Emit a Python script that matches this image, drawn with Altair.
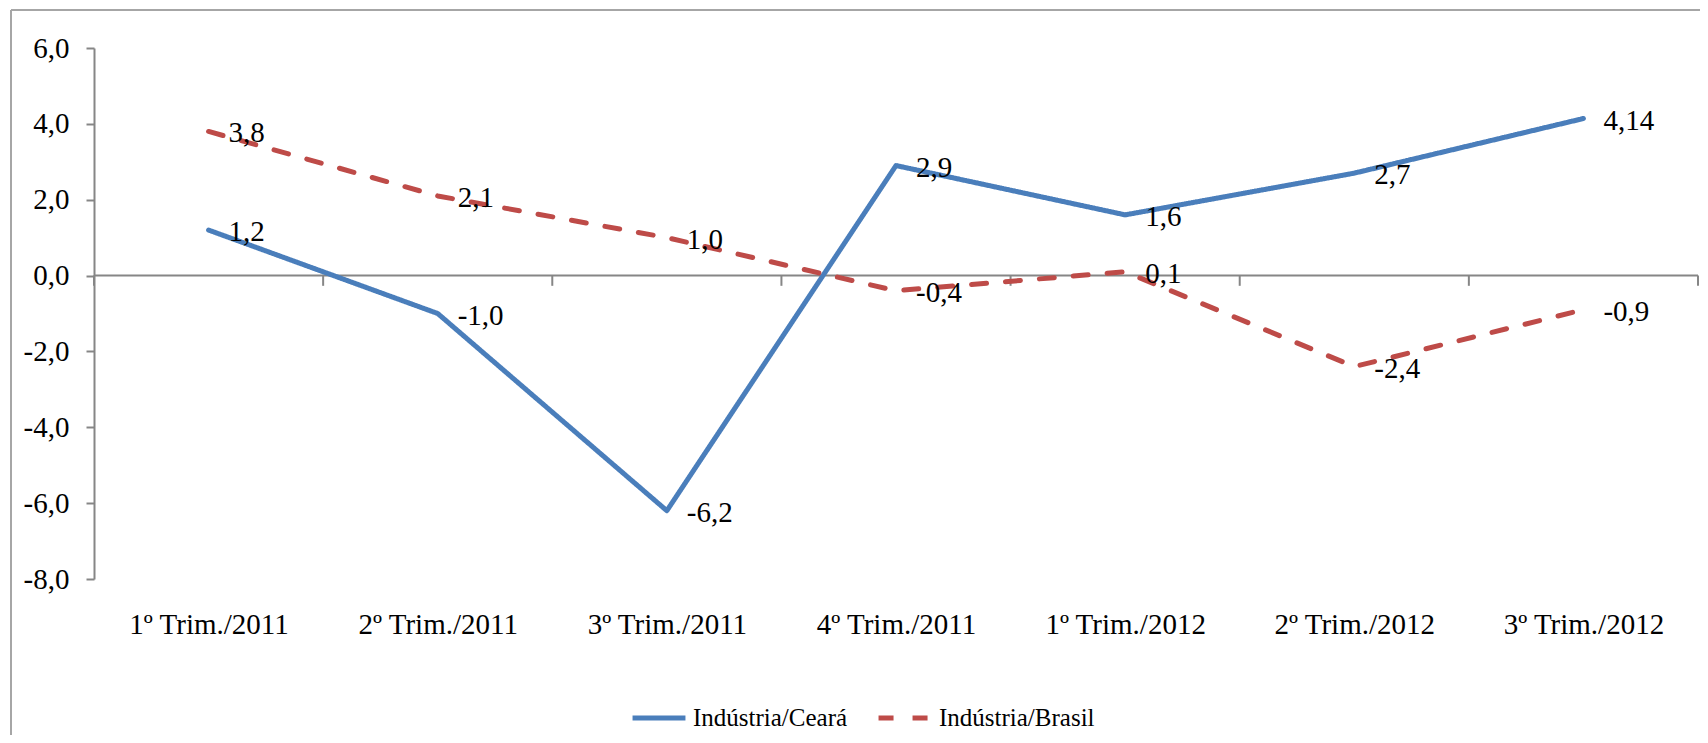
import json
import altair as alt
import pandas as pd

# ---- data ----
categories = ["1º Trim./2011", "2º Trim./2011", "3º Trim./2011", "4º Trim./2011",
              "1º Trim./2012", "2º Trim./2012", "3º Trim./2012"]
series_names = ["Indústria/Ceará", "Indústria/Brasil"]
ceara = [1.2, -1.0, -6.2, 2.9, 1.6, 2.7, 4.14]
brasil = [3.8, 2.1, 1.0, -0.4, 0.1, -2.4, -0.9]
y_ticks = [-8, -6, -4, -2, 0, 2, 4, 6]
boundaries = list(range(len(categories) + 1))


def fmt(v):
    s = f"{v:.2f}".rstrip("0")
    if s.endswith("."):
        s += "0"
    return s.replace(".", ",")


rows = []
for name, vals in zip(series_names, [ceara, brasil]):
    for i, (c, v) in enumerate(zip(categories, vals)):
        rows.append({"cat": c, "pos": i + 0.5, "serie": name, "valor": v, "rotulo": fmt(v)})
df = pd.DataFrame(rows)

FONT = "Liberation Serif"
GREY = "#868686"
xscale = alt.Scale(domain=[0, len(categories)], nice=False, zero=False)
yscale = alt.Scale(domain=[-8, 6], nice=False, zero=False)

legend = alt.Legend(
    title=None, orient="none", legendX=536, legendY=641, direction="horizontal",
    symbolType="stroke", symbolSize=2800, symbolStrokeWidth=5,
    labelFontSize=25, labelFont=FONT, labelColor="black", labelOffset=5,
    columnPadding=20, padding=0, labelLimit=0,
)
color = alt.Color("serie:N", scale=alt.Scale(domain=series_names, range=["#4A7EBB", "#BE4B48"]),
                  legend=legend)
dash = alt.StrokeDash("serie:N", scale=alt.Scale(domain=series_names, range=[[1, 0], [15, 19]]),
                      legend=legend)

x_axis = alt.Axis(
    values=[i + 0.5 for i in range(len(categories))],
    labelExpr=json.dumps(categories) + "[floor(datum.value)]",
    domain=False, ticks=False, tickSize=0, grid=False, labelPadding=31,
    labelFont=FONT, labelFontSize=29, labelColor="black", title=None,
)
y_axis = alt.Axis(
    values=y_ticks,
    labelExpr="replace(replace(format(datum.value, '.1f'), '.', ','), '\u2212', '-')",
    grid=False, domainColor=GREY, domainWidth=2, tickColor=GREY, tickWidth=2, tickSize=8,
    labelPadding=17, labelFont=FONT, labelFontSize=29, labelColor="black", title=None,
)

one = pd.DataFrame({"a": [0]})

border_top = alt.Chart(one).mark_rule(color="#A6A6A6", strokeWidth=2).encode(
    x=alt.value(-83), x2=alt.value(1606), y=alt.value(-38))
border_left = alt.Chart(one).mark_rule(color="#A6A6A6", strokeWidth=2).encode(
    x=alt.value(-83), y=alt.value(-38), y2=alt.value(690))

zero_line = alt.Chart(one).mark_rule(color=GREY, strokeWidth=2).encode(
    x=alt.X(datum=0, scale=xscale, axis=x_axis), x2=alt.X2(datum=len(categories)),
    y=alt.Y(datum=0, scale=yscale, axis=y_axis))

ticks = alt.Chart(pd.DataFrame({"b": boundaries})).mark_rule(color=GREY, strokeWidth=2).encode(
    x=alt.X("b:Q", scale=xscale, axis=x_axis),
    y=alt.Y(datum=0, scale=yscale, axis=y_axis), y2=alt.Y2(datum=-0.27))

lines = alt.Chart(df).mark_line(strokeWidth=5, strokeCap="round", strokeJoin="round").encode(
    x=alt.X("pos:Q", scale=xscale, axis=x_axis),
    y=alt.Y("valor:Q", scale=yscale, axis=y_axis),
    color=color, strokeDash=dash, detail="serie:N",
)

labels = alt.Chart(df).mark_text(align="left", baseline="middle", dx=20, dy=2,
                                 fontSize=29, font=FONT, color="black").encode(
    x=alt.X("pos:Q", scale=xscale, axis=x_axis),
    y=alt.Y("valor:Q", scale=yscale, axis=y_axis),
    text="rotulo:N",
)

chart = alt.layer(zero_line, ticks, lines, labels, border_top, border_left).properties(
    width=1604, height=531,
    padding={"left": 86, "top": 40, "right": 2, "bottom": 156},
    autosize=alt.AutoSizeParams(type="none"),
).configure(font=FONT).configure_view(stroke="transparent")

chart.save("out.html", embed_options={"renderer": "svg", "actions": False})
